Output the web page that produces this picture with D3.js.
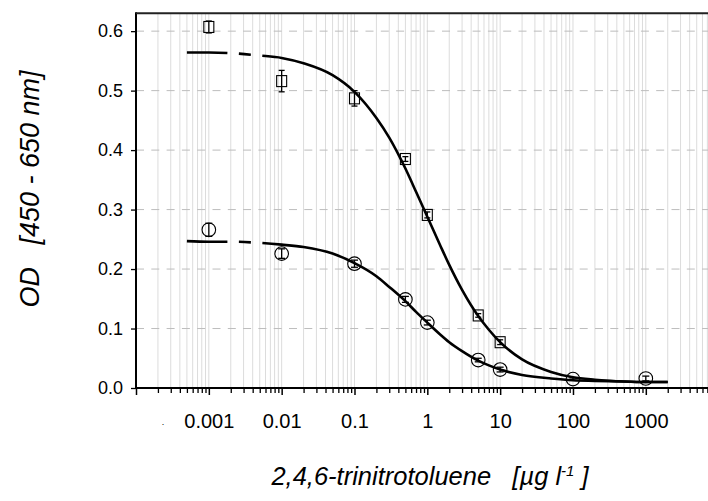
<!DOCTYPE html>
<html>
<head>
<meta charset="utf-8">
<script src="https://cdn.jsdelivr.net/npm/d3@7"></script>
<style>
  html, body { margin: 0; padding: 0; background: #fff; }
  svg { display: block; }
  text { font-family: "Liberation Sans", Arial, sans-serif; fill: #000; }
</style>
</head>
<body>
<div id="chart"></div>
<script>
// measured points (squares = upper series, circles = lower series)
const conc = [0.001, 0.01, 0.1, 0.5, 1, 5, 10, 100, 1000];
const squareConc = [0.001, 0.01, 0.1, 0.5, 1, 5, 10];
const squareOD = [0.607, 0.516, 0.487, 0.385, 0.291, 0.122, 0.077];
const squareErr = [0.010, 0.018, 0.013, 0.004, 0.005, 0.003, 0.004];
const circleOD = [0.266, 0.226, 0.209, 0.149, 0.110, 0.047, 0.031, 0.015, 0.016];
const circleErr = [0.011, 0.008, 0.006, 0.005, 0.004, 0.003, 0.004, 0.002, 0.004];

// fitted curves
const curveConc = [0.0005, 0.001, 0.002, 0.005, 0.01, 0.02, 0.05, 0.1, 0.2, 0.3, 0.5, 0.7,
                   1, 1.5, 2, 3, 5, 7, 10, 20, 50, 100, 200, 500, 1000, 2000];
const upperCurve = [0.564, 0.564, 0.563, 0.559, 0.555, 0.546, 0.526, 0.498, 0.454, 0.421, 0.369, 0.330,
                    0.288, 0.240, 0.207, 0.165, 0.121, 0.098, 0.077, 0.048, 0.027, 0.018, 0.014, 0.011, 0.010, 0.010];
const lowerCurve = [0.247, 0.246, 0.246, 0.244, 0.241, 0.237, 0.226, 0.210, 0.188, 0.170, 0.146, 0.128,
                    0.110, 0.090, 0.077, 0.062, 0.046, 0.038, 0.031, 0.022, 0.016, 0.013, 0.012, 0.011, 0.010, 0.010];

const xMajor = [1e-4, 1e-3, 1e-2, 1e-1, 1, 10, 100, 1000, 1e4];
const xLabels = ['', '0.001', '0.01', '0.1', '1', '10', '100', '1000', ''];
const yTicks = [0, 0.1, 0.2, 0.3, 0.4, 0.5, 0.6];

const width = 708, height = 501;
const margin = { top: 13, left: 136, bottom: 113 };
const font = '"Liberation Sans", Arial, sans-serif';

const svg = d3.select('#chart').append('svg')
    .attr('width', width)
    .attr('height', height);

const x = d3.scaleLog()
    .domain([1e-4, 1e4])
    .range([margin.left, margin.left + 8 * 72.83]);

const y = d3.scaleLinear()
    .domain([0, 0.63])
    .range([height - margin.bottom, margin.top + 0.3]);

// minor log positions
const xMinor = [];
for (let e = -4; e < 4; e++) {
    for (let k = 2; k <= 9; k++) xMinor.push(k * Math.pow(10, e));
}

// vertical grid
svg.append('g')
    .selectAll('line')
    .data(xMinor.concat(xMajor.slice(1)))
    .enter().append('line')
    .attr('x1', d => x(d)).attr('x2', d => x(d))
    .attr('y1', y(0.63)).attr('y2', y(0))
    .attr('stroke', '#dcdcdc')
    .attr('stroke-width', 1);

// horizontal dashed grid
svg.append('g')
    .selectAll('line')
    .data(yTicks.slice(1))
    .enter().append('line')
    .attr('x1', margin.left).attr('x2', width)
    .attr('y1', d => y(d)).attr('y2', d => y(d))
    .attr('stroke', '#bdbdbd')
    .attr('stroke-width', 1)
    .attr('stroke-dasharray', '8 7.3');

// axes
const xMinorAxis = svg.append('g')
    .attr('transform', `translate(0,${y(0)})`)
    .call(d3.axisBottom(x).tickValues(xMinor).tickSize(5).tickFormat(''));
xMinorAxis.select('.domain').remove();
xMinorAxis.selectAll('line').attr('stroke-width', 1.3);

const xAxis = svg.append('g')
    .attr('transform', `translate(0,${y(0)})`)
    .call(d3.axisBottom(x).tickValues(xMajor).tickSize(7).tickPadding(19)
        .tickFormat((d, i) => xLabels[i]));
xAxis.attr('font-family', font);
xAxis.select('.domain').remove();
xAxis.selectAll('line').attr('stroke-width', 1.5);
xAxis.selectAll('text')
    .style('font-family', font)
    .style('font-size', '20px')
    .attr('fill', '#000');

svg.append('line')
    .attr('x1', margin.left - 1).attr('x2', width)
    .attr('y1', y(0)).attr('y2', y(0))
    .attr('stroke', '#000').attr('stroke-width', 2);

const yAxis = svg.append('g')
    .attr('transform', `translate(${margin.left},0)`)
    .call(d3.axisLeft(y).tickValues(yTicks).tickSize(5).tickPadding(8).tickFormat(d3.format('.1f')));
yAxis.attr('font-family', font);
yAxis.select('.domain').remove();
yAxis.selectAll('line').attr('stroke-width', 1.3);
yAxis.selectAll('text')
    .style('font-family', font)
    .style('font-size', '18px')
    .attr('fill', '#000');

svg.append('line')
    .attr('x1', margin.left).attr('x2', margin.left)
    .attr('y1', y(0.63) - 1).attr('y2', y(0) + 1)
    .attr('stroke', '#000').attr('stroke-width', 2);

// top frame
svg.append('line')
    .attr('x1', margin.left).attr('x2', width)
    .attr('y1', y(0.63)).attr('y2', y(0.63))
    .attr('stroke', '#222').attr('stroke-width', 2);

// stray dot left of first label
svg.append('text')
    .attr('x', 163).attr('y', 425)
    .attr('text-anchor', 'middle')
    .style('font-size', '9px')
    .text('.');

// curves
const line = d3.line()
    .x(d => x(d[0]))
    .y(d => y(d[1]))
    .curve(d3.curveMonotoneX);

[upperCurve, lowerCurve].forEach(vals => {
    svg.append('path')
        .datum(curveConc.map((c, i) => [c, vals[i]]))
        .attr('d', line)
        .attr('fill', 'none')
        .attr('stroke', '#000')
        .attr('stroke-width', 2.6)
        .attr('stroke-dasharray', '40.5 11.5 12 11.5 3000');
});

// error bars
function errorBars(xs, ys, es, cap) {
    const g = svg.append('g').attr('stroke', '#000').attr('stroke-width', 1.3);
    xs.forEach((c, i) => {
        const cx = x(c);
        g.append('line')
            .attr('x1', cx).attr('x2', cx)
            .attr('y1', y(ys[i] - es[i])).attr('y2', y(ys[i] + es[i]));
        [ys[i] - es[i], ys[i] + es[i]].forEach(v => {
            g.append('line')
                .attr('x1', cx - cap / 2).attr('x2', cx + cap / 2)
                .attr('y1', y(v)).attr('y2', y(v));
        });
    });
}

errorBars(squareConc, squareOD, squareErr, 6);
errorBars(conc, circleOD, circleErr, 7);

// markers
svg.append('g')
    .selectAll('rect')
    .data(squareConc)
    .enter().append('rect')
    .attr('x', d => x(d) - 5)
    .attr('y', (d, i) => y(squareOD[i]) - 5.5)
    .attr('width', 10)
    .attr('height', 11)
    .attr('fill', 'none')
    .attr('stroke', '#000')
    .attr('stroke-width', 1.1);

svg.append('g')
    .selectAll('circle')
    .data(conc)
    .enter().append('circle')
    .attr('cx', d => x(d))
    .attr('cy', (d, i) => y(circleOD[i]))
    .attr('r', 6.8)
    .attr('fill', 'none')
    .attr('stroke', '#000')
    .attr('stroke-width', 1.1);

// axis titles
svg.append('text')
    .attr('x', 430)
    .attr('y', 485)
    .attr('text-anchor', 'middle')
    .style('font-size', '25.5px')
    .style('font-style', 'italic')
    .style('white-space', 'pre')
    .html('2,4,6-trinitrotoluene   [µg l<tspan dy="-9" font-size="15px">-1</tspan><tspan dy="9"> ]</tspan>');

svg.append('text')
    .attr('transform', 'translate(39,189) rotate(-90)')
    .attr('text-anchor', 'middle')
    .style('font-size', '27px')
    .style('font-style', 'italic')
    .style('white-space', 'pre')
    .text('OD   [450 - 650 nm]');
</script>
</body>
</html>
